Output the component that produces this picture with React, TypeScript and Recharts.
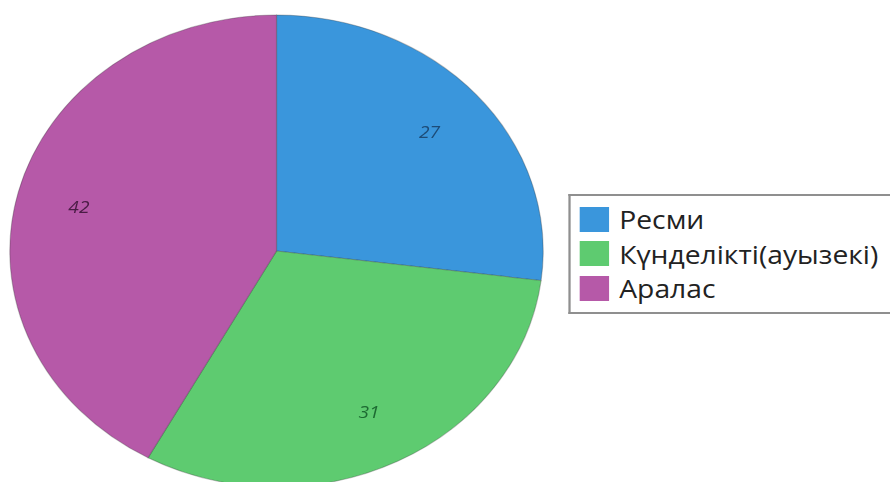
import React from "react";
import { PieChart, Pie, Cell } from "recharts";

const categories = ["Ресми", "Күнделікті(ауызекі)", "Аралас"];
const values = [27, 31, 42];
const sliceColors = ["#3a96dc", "#5ecb70", "#b659a8"];
const labelColors = ["#1d4c78", "#1d6a32", "#4a1c45"];

const data = categories.map((name, i) => ({ name, value: values[i] }));

// the reference is stretched horizontally, so draw narrower and scale X
const STRETCH = 1.13;
const W = 890 / STRETCH;
const H = 482;
const RADIAN = Math.PI / 180;

const renderLabel = (props: any) => {
  const { cx, cy, midAngle, outerRadius, index, value } = props;
  const r = outerRadius * 0.765;
  const x = cx + r * Math.cos(-midAngle * RADIAN);
  const y = cy + r * Math.sin(-midAngle * RADIAN);
  return (
    <text
      x={x}
      y={y}
      fill={labelColors[index]}
      textAnchor="middle"
      dominantBaseline="central"
      fontSize={17}
      fontStyle="italic"
      fontFamily="'Open Sans', sans-serif"
    >
      {value}
    </text>
  );
};

// box runs off the right edge in the reference
const LegendBox = () => (
  <div
    style={{
      position: "absolute",
      left: 503,
      top: 194,
      width: 360,
      borderTop: "2px solid #8f8f8f",
      borderBottom: "2px solid #8f8f8f",
      borderLeft: "2px solid #8f8f8f",
      background: "#fff",
      padding: "6px 8px 6px 8px",
      boxSizing: "border-box",
      fontFamily: "'Open Sans', sans-serif",
      fontSize: 25,
      color: "#222",
    }}
  >
    {categories.map((c, i) => (
      <div
        key={c}
        style={{ display: "flex", alignItems: "center", height: 34.5 }}
      >
        <span
          style={{
            display: "inline-block",
            width: 26,
            height: 25,
            background: sliceColors[i],
            marginRight: 9,
          }}
        />
        <span style={{ lineHeight: "34px", whiteSpace: "nowrap" }}>{c}</span>
      </div>
    ))}
  </div>
);

export default function App() {
  return (
    <div
      style={{
        position: "absolute",
        left: 0,
        top: 0,
        width: 890,
        height: H,
        overflow: "hidden",
        background: "#fff",
      }}
    >
      <div
        style={{
          position: "relative",
          width: W,
          height: H,
          transform: `scaleX(${STRETCH})`,
          transformOrigin: "0 0",
        }}
      >
        <PieChart width={W} height={H} margin={{ top: 0, right: 0, bottom: 0, left: 0 }}>
          <Pie
            data={data}
            dataKey="value"
            nameKey="name"
            cx={244.7}
            cy={251}
            outerRadius={236}
            startAngle={90}
            endAngle={-270}
            stroke="rgba(50,50,50,0.3)"
            strokeWidth={1}
            label={renderLabel}
            labelLine={false}
            isAnimationActive={false}
          >
            {data.map((d, i) => (
              <Cell key={d.name} fill={sliceColors[i]} />
            ))}
          </Pie>
        </PieChart>
        <LegendBox />
      </div>
    </div>
  );
}
